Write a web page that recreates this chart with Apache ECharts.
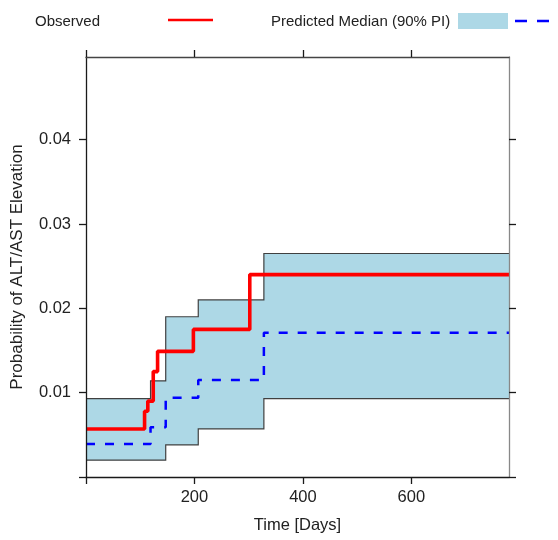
<!DOCTYPE html>
<html>
<head>
<meta charset="utf-8">
<script src="https://cdn.jsdelivr.net/npm/echarts@6/dist/echarts.min.js"></script>
<style>
  html, body { margin: 0; padding: 0; background: #ffffff; }
  #chart { width: 558px; height: 540px; }
</style>
</head>
<body>
<div id="chart"></div>
<script>
// Observed cumulative probability (step function, holds until next time)
var obsTime = [0, 108, 114, 124, 132, 198, 302, 780];
var obsProb = [0.0057, 0.0078, 0.0090, 0.0125, 0.0149, 0.0175, 0.0240, 0.0240];

// Simulated prediction: median and 90% prediction interval
var predTime   = [0, 119, 147, 207, 328, 780];
var predLower  = [0.0020, 0.0020, 0.0038, 0.0057, 0.0093, 0.0093];
var predUpper  = [0.0093, 0.0114, 0.0190, 0.0210, 0.0265, 0.0265];
var predMedian = [0.0039, 0.0059, 0.0094, 0.0115, 0.0171, 0.0171];

// Axis ticks and labels
var xTicks = [0, 200, 400, 600];
var xLabels = [200, 400, 600];
var yTicks = [0, 0.01, 0.02, 0.03, 0.04];
var yLabels = [0.01, 0.02, 0.03, 0.04];

var FONT = 'Liberation Sans, Arial, sans-serif';
var TXT = '#222222';

function pairs(xs, ys) {
  return xs.map(function (x, i) { return [x, ys[i]]; });
}

// Step outline of a right-continuous function, in pixel space
function stepPoints(api, xs, ys) {
  var pts = [];
  for (var i = 0; i < xs.length; i++) {
    if (i > 0) pts.push(api.coord([xs[i], ys[i - 1]]));
    pts.push(api.coord([xs[i], ys[i]]));
  }
  return pts;
}

// Shaded prediction band between lower and upper step functions
function renderBand(params, api) {
  var upper = stepPoints(api, predTime, predUpper);
  var lower = stepPoints(api, predTime, predLower);
  var poly = upper.concat(lower.slice().reverse());
  return {
    type: 'group',
    children: [
      { type: 'polygon', shape: { points: poly }, style: { fill: '#ADD8E6', stroke: null } },
      { type: 'polyline', shape: { points: upper }, style: { stroke: '#404040', lineWidth: 1.2, fill: null } },
      { type: 'polyline', shape: { points: lower }, style: { stroke: '#404040', lineWidth: 1.2, fill: null } }
    ]
  };
}

var chart = echarts.init(document.getElementById('chart'), null, { renderer: 'canvas' });

var axisLineStyle = { color: '#1a1a1a', width: 1.3 };

chart.setOption({
  animation: false,
  backgroundColor: '#ffffff',
  grid: { left: 86, right: 49, top: 57, bottom: 63, containLabel: false },
  xAxis: [{
    type: 'value', position: 'bottom', min: 0, max: 780, z: 10,
    name: 'Time [Days]', nameLocation: 'middle', nameGap: 40,
    nameTextStyle: { fontFamily: FONT, fontSize: 16.5, color: TXT },
    axisLine: { show: true, onZero: false, lineStyle: axisLineStyle },
    axisTick: { show: true, inside: false, length: 7, customValues: xTicks, lineStyle: axisLineStyle },
    axisLabel: { show: true, margin: 12, customValues: xLabels, fontFamily: FONT, fontSize: 16.5, color: TXT },
    splitLine: { show: false }
  }, {
    type: 'value', position: 'top', min: 0, max: 780, z: 10,
    axisLine: { show: true, onZero: false, lineStyle: { color: '#444444', width: 1.3 } },
    axisTick: { show: true, inside: false, length: 7, customValues: xTicks, lineStyle: axisLineStyle },
    axisLabel: { show: false },
    splitLine: { show: false }
  }],
  yAxis: [{
    type: 'value', position: 'left', min: 0, max: 0.0498, z: 10,
    name: 'Probability of ALT/AST Elevation', nameLocation: 'middle', nameGap: 60,
    nameTextStyle: { fontFamily: FONT, fontSize: 17, color: TXT },
    axisLine: { show: true, onZero: false, lineStyle: axisLineStyle },
    axisTick: { show: true, inside: false, length: 7, customValues: yTicks, lineStyle: axisLineStyle },
    axisLabel: {
      show: true, margin: 15, customValues: yLabels, fontFamily: FONT, fontSize: 16.5, color: TXT,
      formatter: function (v) { return v.toFixed(2); }
    },
    splitLine: { show: false }
  }, {
    type: 'value', position: 'right', min: 0, max: 0.0498, z: 10,
    axisLine: { show: true, onZero: false, lineStyle: { color: '#888888', width: 1.3 } },
    axisTick: { show: true, inside: false, length: 7, customValues: yTicks, lineStyle: axisLineStyle },
    axisLabel: { show: false },
    splitLine: { show: false }
  }],
  series: [
    {
      name: 'Predicted Median (90% PI)', type: 'custom', renderItem: renderBand,
      data: [[0, 0]], clip: true, z: 2, silent: true
    },
    {
      name: 'Median', type: 'line', step: 'end',
      data: pairs(predTime, predMedian), showSymbol: false, symbol: 'none',
      lineStyle: { color: '#0000FF', width: 2.5, type: [9, 10] }, z: 3, silent: true
    },
    {
      name: 'Observed', type: 'line', step: 'end',
      data: pairs(obsTime, obsProb), showSymbol: false, symbol: 'none',
      lineStyle: { color: '#FF0000', width: 3.6 }, z: 4, silent: true
    }
  ],
  graphic: [
    { type: 'text', left: 35, top: 14, style: { text: 'Observed', font: '15px ' + FONT, fill: TXT } },
    { type: 'line', shape: { x1: 168, y1: 20, x2: 213, y2: 20 }, style: { stroke: '#FF0000', lineWidth: 2.6 } },
    { type: 'text', left: 271, top: 14, style: { text: 'Predicted Median (90% PI)', font: '15px ' + FONT, fill: TXT } },
    { type: 'rect', shape: { x: 458, y: 13, width: 50, height: 16 }, style: { fill: '#ADD8E6' } },
    { type: 'line', shape: { x1: 515, y1: 21, x2: 570, y2: 21 }, style: { stroke: '#0000FF', lineWidth: 2.6, lineDash: [12, 10] } }
  ]
});
</script>
</body>
</html>
